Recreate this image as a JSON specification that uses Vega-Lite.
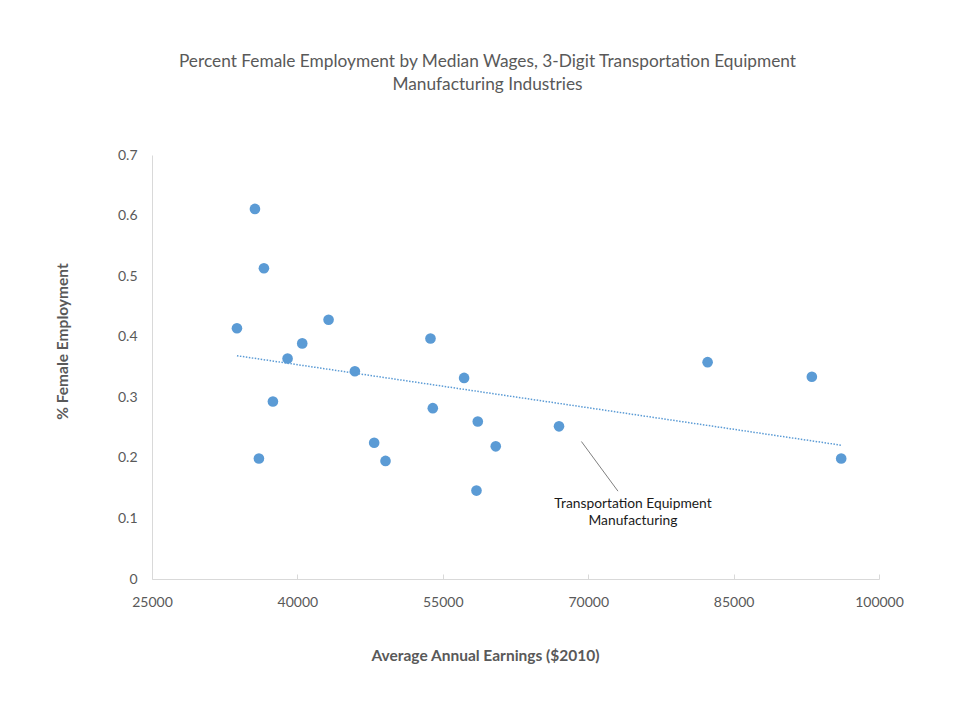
{
  "$schema": "https://vega.github.io/schema/vega-lite/v6.json",
  "autosize": {"type": "none"},
  "width": 727,
  "height": 424,
  "padding": {"left": 152, "top": 155, "right": 75, "bottom": 142},
  "background": "white",
  "config": {
    "font": "Lato",
    "view": {"stroke": null},
    "axis": {"labelFont": "Lato", "titleFont": "Lato"}
  },
  "title": {
    "text": ["Percent Female Employment by Median Wages, 3-Digit Transportation Equipment", "Manufacturing Industries"],
    "font": "Lato",
    "fontSize": 17.3,
    "fontWeight": "normal",
    "color": "#595959",
    "anchor": "middle",
    "dx": -28,
    "offset": 55,
    "lineHeight": 23
  },
  "datasets": {
    "industries": [
      {"earnings": 35619, "female": 0.611},
      {"earnings": 36546, "female": 0.513},
      {"earnings": 33763, "female": 0.414},
      {"earnings": 43216, "female": 0.428},
      {"earnings": 40498, "female": 0.389},
      {"earnings": 38986, "female": 0.364},
      {"earnings": 45928, "female": 0.343},
      {"earnings": 37474, "female": 0.293},
      {"earnings": 36031, "female": 0.199},
      {"earnings": 47920, "female": 0.225},
      {"earnings": 49091, "female": 0.195},
      {"earnings": 53730, "female": 0.397},
      {"earnings": 57197, "female": 0.332},
      {"earnings": 53968, "female": 0.282},
      {"earnings": 58607, "female": 0.260},
      {"earnings": 60463, "female": 0.219},
      {"earnings": 58473, "female": 0.146},
      {"earnings": 66990, "female": 0.252},
      {"earnings": 82318, "female": 0.358},
      {"earnings": 93072, "female": 0.334},
      {"earnings": 96100, "female": 0.199}
    ],
    "callout": [
      {"earnings": 69300, "female": 0.227, "earnings2": 73070, "female2": 0.145}
    ],
    "callout_label": [
      {"earnings": 74620, "female": 0.1246, "label": ["Transportation Equipment", "Manufacturing"]}
    ]
  },
  "layer": [
    {
      "data": {"name": "industries"},
      "mark": {"type": "circle", "size": 113, "opacity": 1, "color": "#5B9BD5"},
      "encoding": {
        "x": {
          "field": "earnings", "type": "quantitative",
          "scale": {"domain": [25000, 100000], "nice": false, "zero": false},
          "axis": {
            "title": "Average Annual Earnings ($2010)",
            "values": [25000, 40000, 55000, 70000, 85000, 100000],
            "format": "d",
            "grid": false,
            "domainColor": "#D9D9D9",
            "tickColor": "#D9D9D9",
            "tickSize": -5,
            "labelPadding": 28,
            "labelFontSize": 14,
            "labelColor": "#595959",
            "labelFlush": false,
            "labelBaseline": "middle",
            "titleFontSize": 15.5,
            "titleFontWeight": "bold",
            "titleColor": "#595959",
            "titleX": 333,
            "titleY": 76,
            "titleBaseline": "middle",
            "titleAnchor": null
          }
        },
        "y": {
          "field": "female", "type": "quantitative",
          "scale": {"domain": [0, 0.7], "nice": false},
          "axis": {
            "title": "% Female Employment",
            "values": [0, 0.1, 0.2, 0.3, 0.4, 0.5, 0.6, 0.7],
            "format": ".1~f",
            "grid": false,
            "ticks": false,
            "domainColor": "#D9D9D9",
            "labelPadding": 15,
            "labelFontSize": 14,
            "labelColor": "#595959",
            "labelFlush": false,
            "titleFontSize": 15.5,
            "titleFontWeight": "bold",
            "titleColor": "#595959",
            "titleX": -90,
            "titleY": 186,
            "titleBaseline": "middle",
            "titleAnchor": null
          }
        }
      }
    },
    {
      "data": {"name": "industries"},
      "transform": [{"regression": "female", "on": "earnings"}],
      "mark": {"type": "line", "color": "#5B9BD5", "strokeWidth": 1.5, "strokeDash": [1.5, 1.5]},
      "encoding": {
        "x": {"field": "earnings", "type": "quantitative"},
        "y": {"field": "female", "type": "quantitative"}
      }
    },
    {
      "data": {"name": "callout"},
      "mark": {"type": "rule", "color": "#7F7F7F", "strokeWidth": 1},
      "encoding": {
        "x": {"field": "earnings", "type": "quantitative"},
        "y": {"field": "female", "type": "quantitative"},
        "x2": {"field": "earnings2"},
        "y2": {"field": "female2"}
      }
    },
    {
      "data": {"name": "callout_label"},
      "mark": {"type": "text", "font": "Lato", "fontSize": 13.8, "color": "#1a1a1a", "align": "center", "baseline": "middle", "lineHeight": 17},
      "encoding": {
        "x": {"field": "earnings", "type": "quantitative"},
        "y": {"field": "female", "type": "quantitative"},
        "text": {"field": "label"}
      }
    }
  ]
}
